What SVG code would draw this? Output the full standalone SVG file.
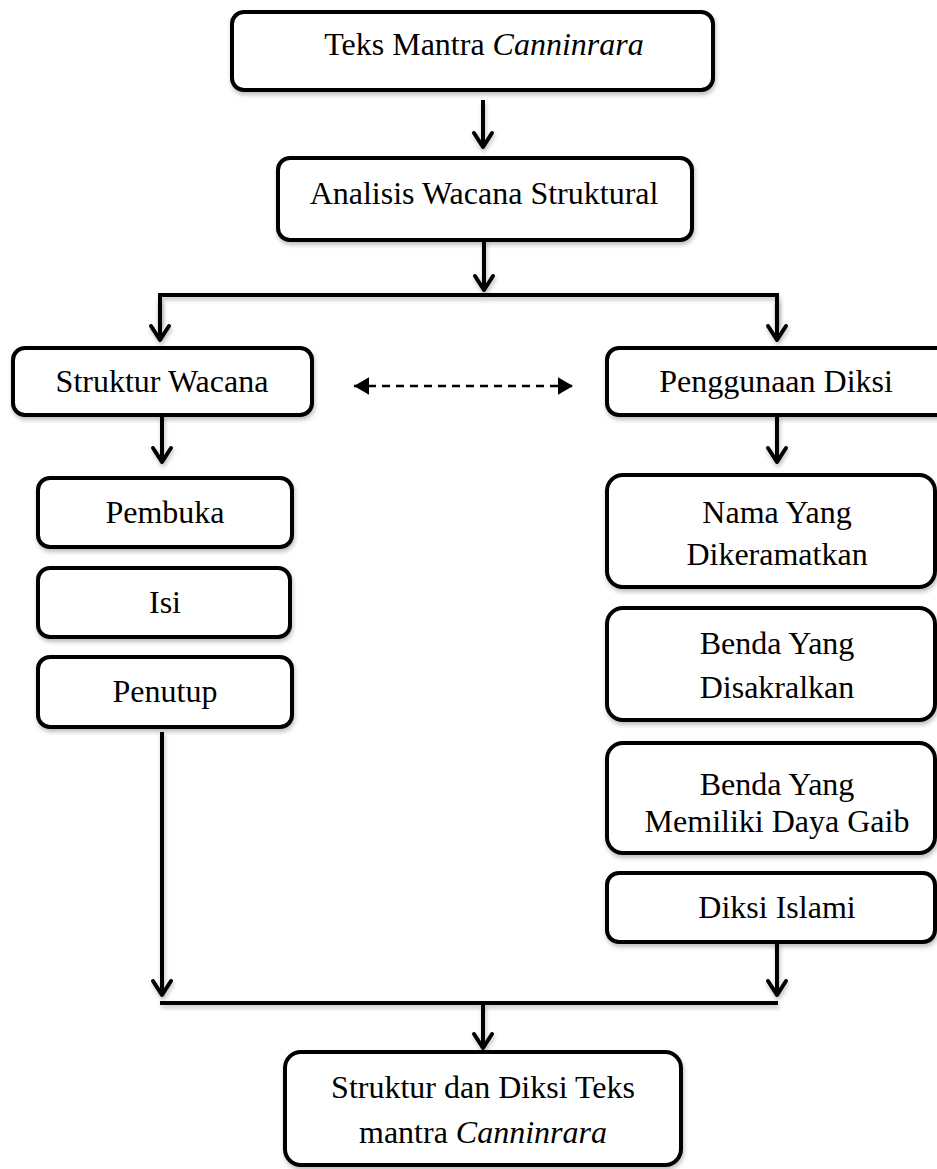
<svg xmlns="http://www.w3.org/2000/svg" width="937" height="1169" viewBox="0 0 937 1169">
<defs>
<filter id="sh" filterUnits="userSpaceOnUse" x="-20" y="-20" width="980" height="1210">
<feDropShadow dx="1" dy="3" stdDeviation="2" flood-color="#000" flood-opacity="0.25"/>
</filter>
<marker id="v" markerUnits="userSpaceOnUse" markerWidth="30" markerHeight="30" refX="0" refY="0" orient="auto" viewBox="-20 -15 30 30" overflow="visible">
<path d="M-14,-9 L0,0 L-14,9" fill="none" stroke="#000" stroke-width="4" stroke-linecap="round" stroke-linejoin="round"/>
</marker>
<marker id="tri" markerUnits="userSpaceOnUse" markerWidth="20" markerHeight="20" refX="0" refY="0" orient="auto-start-reverse" viewBox="-14 -8 16 16" overflow="visible">
<path d="M-12,-7 L0,0 L-12,7 Z" fill="#000"/>
</marker>
</defs>
<style>
.box{fill:#fff;stroke:#000;stroke-width:4;filter:url(#sh)}
.t{font-family:"Liberation Serif","Times New Roman",serif;font-size:32px;fill:#000;text-anchor:middle}
.i{font-style:italic}
.c{fill:none;stroke:#000;stroke-width:4;filter:url(#sh)}
.a{marker-end:url(#v)}
.d{fill:none;stroke:#000;stroke-width:2.5;stroke-dasharray:8 6;marker-start:url(#tri);marker-end:url(#tri)}
</style>
<rect width="937" height="1169" fill="#fff"/>
<g id="connectors">
<line class="c a" x1="483" y1="100" x2="483" y2="147"/>
<line class="c a" x1="484" y1="240" x2="484" y2="290"/>
<polyline class="c" points="160,325 160,295 777,295 777,325"/>
<line class="c a" x1="160" y1="300" x2="160" y2="340"/>
<line class="c a" x1="777" y1="300" x2="777" y2="340"/>
<line class="c a" x1="162" y1="415" x2="162" y2="462"/>
<line class="c a" x1="777" y1="415" x2="777" y2="462"/>
<line class="d" x1="354" y1="386" x2="573" y2="386"/>
<line class="c a" x1="162" y1="732" x2="162" y2="995"/>
<line class="c a" x1="777" y1="942" x2="777" y2="995"/>
<line class="c" x1="160" y1="1003" x2="778" y2="1003"/>
<line class="c a" x1="483" y1="1003" x2="483" y2="1048"/>
</g>
<g id="n-teks">
<rect class="box" x="232" y="12" width="481" height="78" rx="12"/>
<text class="t" x="484" y="55">Teks Mantra <tspan class="i">Canninrara</tspan></text>
</g>
<g id="n-analisis">
<rect class="box" x="278" y="158" width="414" height="82" rx="12"/>
<text class="t" x="484" y="204">Analisis Wacana Struktural</text>
</g>
<g id="n-struktur">
<rect class="box" x="13" y="348" width="299" height="67" rx="12"/>
<text class="t" x="162" y="392">Struktur Wacana</text>
</g>
<g id="n-diksi">
<rect class="box" x="607" y="348" width="345" height="67" rx="12"/>
<text class="t" x="776" y="392">Penggunaan Diksi</text>
</g>
<g id="n-pembuka">
<rect class="box" x="38" y="478" width="254" height="69" rx="12"/>
<text class="t" x="165" y="523">Pembuka</text>
</g>
<g id="n-isi">
<rect class="box" x="38" y="568" width="252" height="69" rx="12"/>
<text class="t" x="165" y="613">Isi</text>
</g>
<g id="n-penutup">
<rect class="box" x="38" y="657" width="254" height="70" rx="12"/>
<text class="t" x="165" y="702">Penutup</text>
</g>
<g id="n-nama">
<rect class="box" x="607" y="475" width="328" height="112" rx="16"/>
<text class="t" x="777" y="523">Nama Yang</text>
<text class="t" x="777" y="565">Dikeramatkan</text>
</g>
<g id="n-benda1">
<rect class="box" x="607" y="608" width="328" height="112" rx="16"/>
<text class="t" x="777" y="654">Benda Yang</text>
<text class="t" x="777" y="698">Disakralkan</text>
</g>
<g id="n-benda2">
<rect class="box" x="607" y="743" width="328" height="110" rx="16"/>
<text class="t" x="777" y="795">Benda Yang</text>
<text class="t" x="777" y="832">Memiliki Daya Gaib</text>
</g>
<g id="n-islami">
<rect class="box" x="607" y="873" width="328" height="69" rx="12"/>
<text class="t" x="777" y="918">Diksi Islami</text>
</g>
<g id="n-hasil">
<rect class="box" x="285" y="1052" width="396" height="113" rx="16"/>
<text class="t" x="483" y="1098">Struktur dan Diksi Teks</text>
<text class="t" x="483" y="1143">mantra <tspan class="i">Canninrara</tspan></text>
</g>
</svg>
